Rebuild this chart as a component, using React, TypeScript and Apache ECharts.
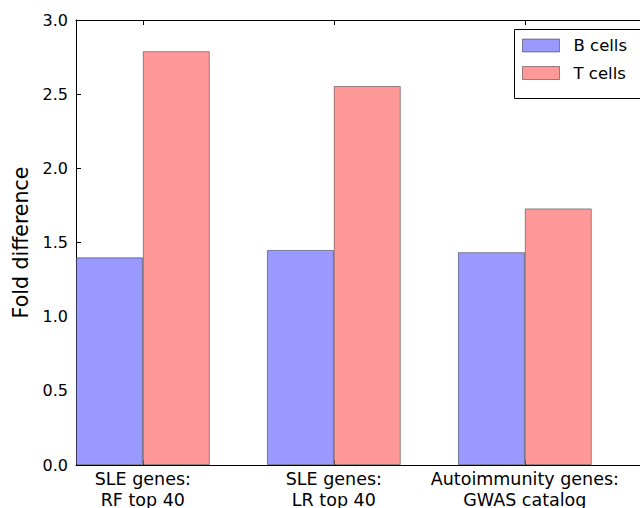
import React, { useEffect, useRef } from "react";
import * as echarts from "echarts";

const categories = ["SLE genes:\nRF top 40", "SLE genes:\nLR top 40", "Autoimmunity genes:\nGWAS catalog"];
const bCells = [1.4, 1.45, 1.435];
const tCells = [2.79, 2.555, 1.73];
const seriesNames = ["B cells", "T cells"];
const yTicks = [0, 0.5, 1.0, 1.5, 2.0, 2.5, 3.0];

const BAR_UNIT = 0.35; // bar width in data units
const tickPositions = categories.map((_, i) => i + BAR_UNIT);

export default function App() {
  const ref = useRef<HTMLDivElement>(null);
  useEffect(() => {
    if (!ref.current) return;
    const chart = echarts.init(ref.current, null, { renderer: "svg" });
    const font = "DejaVu Sans";
    chart.setOption({
      animation: false,
      backgroundColor: "#ffffff",
      textStyle: { fontFamily: font },
      grid: { left: 76, top: 20, height: 445, width: 573, containLabel: false, outerBoundsMode: "none" },
      xAxis: [
        {
          type: "value",
          min: 0,
          max: 3,
          position: "bottom",
          axisLine: { lineStyle: { color: "#000", width: 1 } },
          axisTick: { inside: true, length: 5, customValues: tickPositions, lineStyle: { color: "#000" } },
          axisLabel: {
            customValues: tickPositions,
            formatter: (v: number) => categories[Math.round(v - BAR_UNIT)] ?? "",
            color: "#000",
            fontSize: 17.5,
            lineHeight: 21,
            margin: 3,
            fontFamily: font,
          },
          splitLine: { show: false },
        },
        {
          type: "value",
          min: 0,
          max: 3,
          position: "top",
          axisLine: { show: true, lineStyle: { color: "#000", width: 1 } },
          axisTick: { inside: true, length: 5, customValues: tickPositions, lineStyle: { color: "#000" } },
          axisLabel: { show: false },
          splitLine: { show: false },
        },
      ],
      yAxis: {
        type: "value",
        min: 0,
        max: 3,
        interval: 0.5,
        name: "Fold difference",
        nameLocation: "middle",
        nameGap: 42,
        nameTextStyle: { fontSize: 20.5, color: "#000", fontFamily: font },
        axisLine: { show: true, lineStyle: { color: "#000", width: 1 } },
        axisTick: { inside: true, length: 5, lineStyle: { color: "#000" } },
        axisLabel: {
          formatter: (v: number) => v.toFixed(1),
          color: "#000",
          fontSize: 16,
          margin: 8,
          fontFamily: font,
          customValues: yTicks,
        },
        splitLine: { show: false },
      },
      legend: {
        orient: "vertical",
        left: 522,
        top: 37,
        itemWidth: 37,
        itemHeight: 13,
        itemGap: 10.5,
        padding: 0,
        z: 10,
        icon: "rect",
        textStyle: { fontSize: 16.5, color: "#000", lineHeight: 16, padding: [0, 0, 0, 9], fontFamily: font },
        itemStyle: { borderColor: "rgba(0,0,0,0.4)", borderWidth: 1 },
        data: seriesNames,
      },
      graphic: [
        {
          type: "rect",
          z: 5,
          shape: { x: 514.5, y: 29.5, width: 140, height: 69 },
          style: { fill: "#fff", stroke: "#000", lineWidth: 1 },
        },
      ],
      series: [
        {
          name: seriesNames[0],
          type: "bar",
          barWidth: 67,
          barGap: "-100%",
          itemStyle: { color: "#9999ff", borderColor: "rgba(0,0,0,0.4)", borderWidth: 1 },
          data: bCells.map((v, i) => [i + BAR_UNIT / 2, v]),
        },
        {
          name: seriesNames[1],
          type: "bar",
          barWidth: 67,
          barGap: "-100%",
          itemStyle: { color: "#ff9999", borderColor: "rgba(0,0,0,0.4)", borderWidth: 1 },
          data: tCells.map((v, i) => [i + BAR_UNIT * 1.5, v]),
        },
      ],
    });
    return () => chart.dispose();
  }, []);
  return <div ref={ref} style={{ width: 640, height: 508, position: "absolute", left: 0, top: 0 }} />;
}
